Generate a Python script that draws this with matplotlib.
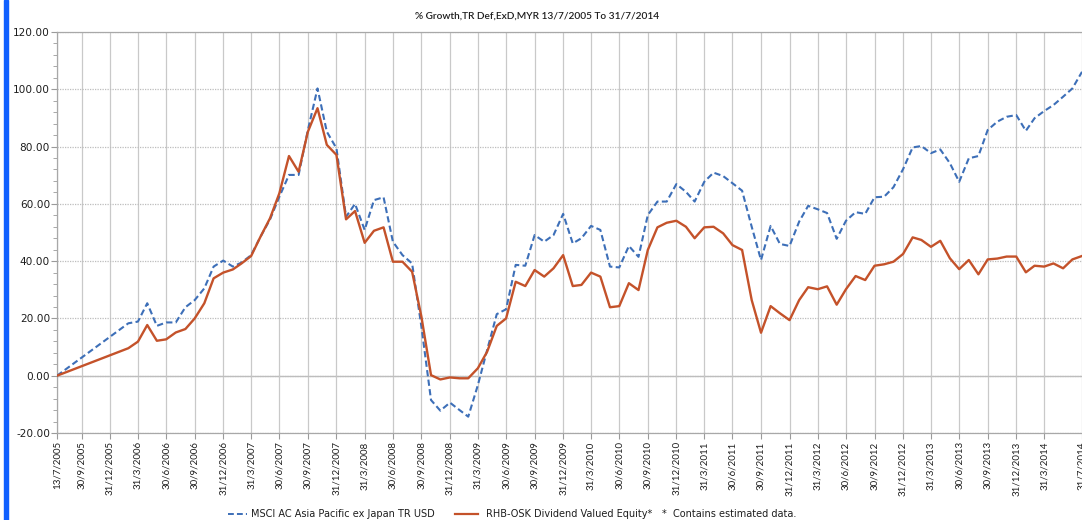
import matplotlib
matplotlib.use("Agg")
import matplotlib.pyplot as plt
from matplotlib.lines import Line2D
from matplotlib.patches import Rectangle
from matplotlib.ticker import MultipleLocator, FuncFormatter
import pandas as pd

# ---------------- data ----------------
start_date = "2005-07-13"
month_ends = pd.date_range("2006-02-28", "2014-07-31", freq="ME")

msci = [0.0,
    18.3, 18.9, 25.3, 17.4, 18.6, 18.6, 23.9, 26.4, 30.5, 38.1, 40.2,
    38.1, 39.5, 42.1, 48.5, 54.6, 62.5, 70.1, 70.1, 85.8, 100.3, 85.2, 79.4,
    55.5, 60.0, 50.9, 61.3, 62.3, 46.8, 42.1, 39.2, 17.1, -8.5, -12.2, -9.4,
    -12.0, -14.3, -3.3, 9.0, 21.5, 23.2, 38.7, 38.4, 49.1, 46.8, 49.1, 56.5,
    46.2, 48.0, 52.3, 50.9, 38.1, 37.8, 45.3, 41.5, 56.1, 60.8, 60.8, 66.9,
    64.2, 60.8, 67.7, 70.9, 69.7, 67.2, 64.6, 52.0, 40.4, 52.3, 46.0, 45.3,
    53.8, 59.3, 58.1, 56.8, 47.8, 54.1, 57.1, 56.5, 62.3, 62.5, 65.8, 72.1,
    79.7, 80.2, 77.7, 79.0, 74.2, 67.7, 75.9, 76.7, 85.8, 88.7, 90.4, 91.0,
    85.5, 89.9, 92.4, 94.5, 97.4, 100.3, 106.1]

rhb = [0.0,
    9.6, 11.9, 17.7, 12.2, 12.7, 15.1, 16.3, 20.0, 25.3, 34.0, 36.0,
    37.1, 39.2, 41.8, 48.5, 55.0, 63.7, 76.7, 71.2, 85.2, 93.4, 80.6, 77.1,
    54.6, 57.5, 46.4, 50.6, 51.8, 39.8, 39.8, 36.3, 20.6, 0.2, -1.3, -0.6,
    -0.9, -0.9, 2.6, 8.4, 17.4, 20.0, 32.8, 31.3, 36.9, 34.6, 37.5, 42.1,
    31.3, 31.7, 36.0, 34.6, 23.9, 24.3, 32.3, 29.9, 43.9, 51.8, 53.4, 54.1,
    52.0, 48.0, 51.8, 52.0, 49.7, 45.6, 43.9, 26.4, 15.0, 24.3, 21.8, 19.4,
    26.4, 30.9, 30.2, 31.2, 24.8, 30.2, 34.8, 33.4, 38.4, 38.9, 39.8, 42.5,
    48.3, 47.4, 45.0, 47.1, 41.0, 37.2, 40.4, 35.4, 40.6, 40.9, 41.6, 41.6,
    36.1, 38.4, 38.1, 39.2, 37.5, 40.6, 41.8]

tick_labels = ["13/7/2005", "30/9/2005", "31/12/2005", "31/3/2006", "30/6/2006",
    "30/9/2006", "31/12/2006", "31/3/2007", "30/6/2007", "30/9/2007",
    "31/12/2007", "31/3/2008", "30/6/2008", "30/9/2008", "31/12/2008",
    "31/3/2009", "30/6/2009", "30/9/2009", "31/12/2009", "31/3/2010",
    "30/6/2010", "30/9/2010", "31/12/2010", "31/3/2011", "30/6/2011",
    "30/9/2011", "31/12/2011", "31/3/2012", "30/6/2012", "30/9/2012",
    "31/12/2012", "31/3/2013", "30/6/2013", "30/9/2013", "31/12/2013",
    "31/3/2014", "31/7/2014"]

series_names = ["MSCI AC Asia Pacific ex Japan TR USD", "RHB-OSK Dividend Valued Equity*"]
title = "% Growth,TR Def,ExD,MYR 13/7/2005 To 31/7/2014"
note = "*  Contains estimated data."

# ---------------- plot ----------------
dates = [pd.Timestamp(start_date)] + list(month_ends)
tick_dates = [pd.to_datetime(t, format="%d/%m/%Y") for t in tick_labels]

BLUE = "#3d6fb8"
RED = "#c4522a"
TXT = "#1e1e1e"
W, H = 1082, 520

fig = plt.figure(figsize=(W / 100, H / 100), dpi=100)
ax = fig.add_axes([57 / W, 1 - 433 / H, (W - 57) / W, 401 / H])

ax.plot(dates, msci, color=BLUE, lw=1.5, ls=(0, (3, 1.6)), zorder=3)
ax.plot(dates, rhb, color=RED, lw=1.7, zorder=4)

ax.set_xlim(tick_dates[0], tick_dates[-1])
ax.set_ylim(-20, 120)
ax.yaxis.set_major_locator(MultipleLocator(20))
ax.yaxis.set_minor_locator(MultipleLocator(4))
ax.yaxis.set_major_formatter(FuncFormatter(lambda v, p: f"{v:.2f}"))
ax.set_xticks(tick_dates)
ax.set_xticklabels(tick_labels, rotation=90, fontsize=7.0, family=["Lato", "DejaVu Sans"],
                   color=TXT)
for t in ax.get_yticklabels():
    t.set_fontsize(7.6)
    t.set_color(TXT)

ax.tick_params(axis="y", which="major", length=4, color="#9a9a9a", pad=1.0)
ax.tick_params(axis="y", which="minor", length=3, color="#9a9a9a")
ax.tick_params(axis="x", length=4, color="#9a9a9a", pad=2)

ax.grid(axis="x", color="#c9c9c9", lw=0.9, ls="-")
ax.grid(axis="y", which="major", color="#bdbdbd", lw=0.9, ls=(0, (1, 1)))
ax.axhline(0, color="#bdbdbd", lw=1.0, zorder=1)

for s in ["left", "bottom", "top"]:
    ax.spines[s].set_color("#a8a8a8")
    ax.spines[s].set_linewidth(0.9)
ax.spines["right"].set_visible(False)

fig.text(537 / W, 1 - 16 / H, title, ha="center", va="center", fontsize=7.3,
         family=["Lato", "DejaVu Sans"], fontweight="semibold", color=TXT)

# legend drawn in figure coordinates
ly = 1 - 514 / H
fig.add_artist(Line2D([228 / W, 247 / W], [ly, ly], color=BLUE, lw=1.4,
                      ls=(0, (3, 1.6)), transform=fig.transFigure))
fig.text(251 / W, ly, series_names[0], ha="left", va="center", fontsize=7.0, color=TXT)
fig.add_artist(Line2D([455 / W, 478 / W], [ly, ly], color=RED, lw=1.6,
                      transform=fig.transFigure))
fig.text(486 / W, ly, series_names[1], ha="left", va="center", fontsize=7.0, color=TXT)
fig.text(662 / W, ly, note, ha="left", va="center", fontsize=7.0, color=TXT)

fig.patches.append(Rectangle((4 / W, 0), 4 / W, 1, transform=fig.transFigure,
                             color="#1060ff", zorder=10))

fig.savefig("out.png", dpi=100)
